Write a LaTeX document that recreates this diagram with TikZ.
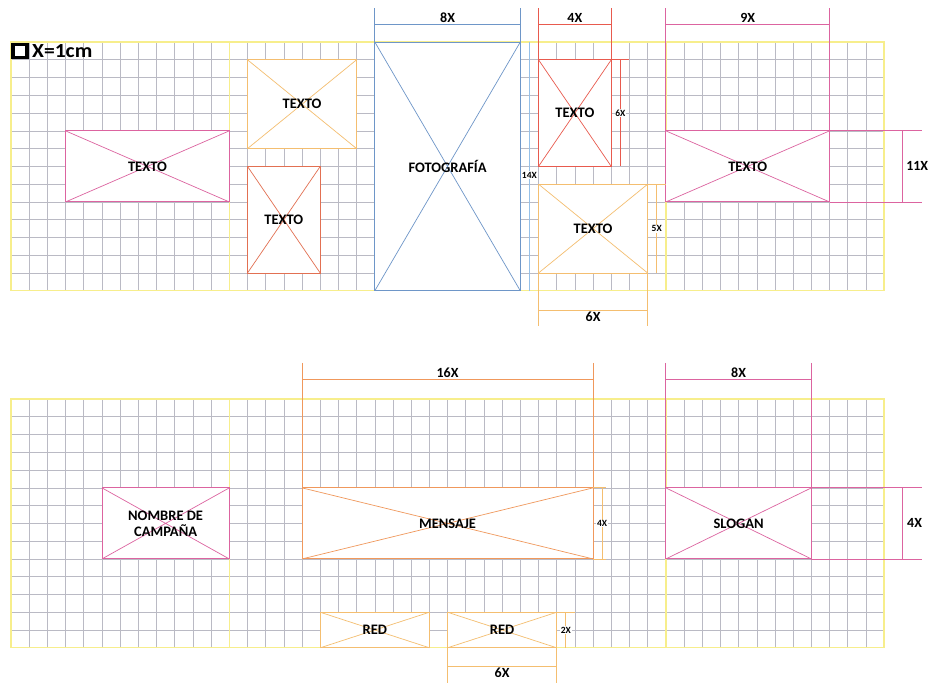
\documentclass[tikz,border=0pt]{standalone}
\usepackage{fontspec}
\setmainfont{Carlito}
\definecolor{gridc}{RGB}{186,186,196}
\definecolor{yel}{RGB}{247,238,140}
\definecolor{pinkc}{RGB}{220,100,160}
\definecolor{lorange}{RGB}{244,190,112}
\definecolor{redor}{RGB}{226,112,82}
\definecolor{redc}{RGB}{232,90,78}
\definecolor{bluec}{RGB}{110,150,200}
\definecolor{lblue}{RGB}{150,192,232}
\definecolor{orangec}{RGB}{240,152,92}
\tikzset{
  gridline/.style={draw=gridc, line width=0.6pt},
  border/.style={draw=yel, line width=1.4pt},
  lbl/.style={font=\fontsize{14.5}{16}\selectfont\bfseries, align=center, inner sep=0pt},
  dimlbl/.style={font=\fontsize{14}{16}\selectfont\bfseries, inner sep=1pt},
  smalllbl/.style={font=\fontsize{9.5}{11}\selectfont\bfseries, inner sep=0.8pt, fill=white},
  dimline/.style={line width=0.8pt},
}
\newcommand{\xbox}[7]{%
  \draw[#2, fill=white, line width=0.9pt] (#3,#4) rectangle (#5,#6);
  \draw[#2, line width=0.7pt] (#3,#4) -- (#5,#6) (#5,#4) -- (#3,#6);
  \node[lbl] (#1) at ({(#3+#5)/2},{(#4+#6)/2}) {#7};
}
\newcommand{\gridpanel}{%
  \foreach \c in {1,...,47} {\draw[gridline] (\c,0) -- (\c,14);}
  \foreach \r in {1,...,13} {\draw[gridline] (0,\r) -- (48,\r);}
  \draw[border] (0,0) rectangle (48,14);
  \draw[border] (12,0) -- (12,14) (36,0) -- (36,14);
}
\begin{document}
\begin{tikzpicture}[x=1pt,y=-1pt]
\useasboundingbox (0,0) rectangle (934,686);
% ---------- top panel ----------
\begin{scope}[xshift=11pt, yshift=-42pt, x=18.19pt, y=-17.77pt]
  \gridpanel
  % legend
  \draw[black, fill=white, line width=3.4pt] (0.12,0.14) rectangle (0.88,0.88);
  \node[font=\fontsize{20}{21}\selectfont\bfseries, anchor=west, inner sep=0pt, xscale=1.08] (legend) at (1.15,0.5) {X=1cm};
  % boxes
  \xbox{t1}{pinkc}{3}{5}{12}{9}{TEXTO}
  \xbox{t2}{lorange}{13}{1}{19}{6}{TEXTO}
  \xbox{t3}{redor}{13}{7}{17}{13}{TEXTO}
  \xbox{foto}{bluec}{20}{0}{28}{14}{FOTOGRAFÍA}
  \xbox{t4}{redc}{29}{1}{33}{7}{TEXTO}
  \xbox{t5}{lorange}{29}{8}{35}{13}{TEXTO}
  \xbox{t6}{pinkc}{36}{5}{45}{9}{TEXTO}
  % 8X
  \draw[bluec, dimline] (20,-1.9) -- (20,0) (28,-1.9) -- (28,0) (20,-1) -- (28,-1);
  \node[dimlbl, anchor=south] (d8) at (24,-1.02) {8X};
  % 14X
  \draw[lblue, dimline] (28.5,0) -- (28.5,14);
  \node[smalllbl] (d14) at (28.5,7.5) {14X};
  % 4X
  \draw[redc, dimline] (29,-1.9) -- (29,1) (33,-1.9) -- (33,1) (29,-1) -- (33,-1);
  \node[dimlbl, anchor=south] (d4) at (31,-1.02) {4X};
  % 6X vertical
  \draw[redc, dimline] (33,1) -- (34,1) (33.5,1) -- (33.5,7);
  \node[smalllbl] (d6v) at (33.5,4) {6X};
  % 5X
  \draw[lorange, dimline] (35,8) -- (36,8) (35.5,8) -- (35.5,13);
  \node[smalllbl] (d5) at (35.5,10.5) {5X};
  % 6X horizontal
  \draw[lorange, dimline] (29,13) -- (29,16) (35,13) -- (35,16) (29,15.1) -- (35,15.1);
  \node[dimlbl, anchor=north] (d6h) at (32,15.12) {6X};
  % 9X
  \draw[pinkc, dimline] (36,-1.9) -- (36,5) (45,-1.9) -- (45,5) (36,-1) -- (45,-1);
  \node[dimlbl, anchor=south] (d9) at (40.5,-1.02) {9X};
  % 11X
  \draw[pinkc, dimline] (45,5) -- (50.07,5) (45,9) -- (50.07,9) (49,5) -- (49,9);
  \node[dimlbl, anchor=west] (d11) at (49.15,7) {11X};
\end{scope}
% ---------- bottom panel ----------
\begin{scope}[xshift=11pt, yshift=-399pt, x=18.19pt, y=-17.77pt]
  \gridpanel
  \xbox{camp}{pinkc}{5}{5}{12}{9}{NOMBRE DE\\CAMPAÑA}
  \xbox{mens}{orangec}{16}{5}{32}{9}{MENSAJE}
  \xbox{slog}{pinkc}{36}{5}{44}{9}{SLOGAN}
  \xbox{red1}{lorange}{17}{12}{23}{14}{RED}
  \xbox{red2}{lorange}{24}{12}{30}{14}{RED}
  % 16X
  \draw[orangec, dimline] (16,-2.03) -- (16,5) (32,-2.03) -- (32,5) (16,-1.1) -- (32,-1.1);
  \node[dimlbl, anchor=south] (d16) at (24,-1.12) {16X};
  % 4X mensaje
  \draw[lorange, dimline] (32,5) -- (32.7,5) (32,9) -- (32.7,9) (32.5,5) -- (32.5,9);
  \node[smalllbl] (d4m) at (32.5,7) {4X};
  % 8X slogan
  \draw[pinkc, dimline] (36,-2.03) -- (36,5) (44,-2.03) -- (44,5) (36,-1.1) -- (44,-1.1);
  \node[dimlbl, anchor=south] (d8s) at (40,-1.12) {8X};
  % 4X slogan
  \draw[pinkc, dimline] (44,5) -- (50.07,5) (44,9) -- (50.07,9) (49,5) -- (49,9);
  \node[dimlbl, anchor=west] (d4s) at (49.2,7) {4X};
  % 2X
  \draw[lorange, dimline] (30,12) -- (31,12) (30.5,12) -- (30.5,14);
  \node[smalllbl] (d2) at (30.5,13) {2X};
  % 6X red
  \draw[lorange, dimline] (24,14) -- (24,15.98) (30,14) -- (30,15.98) (24,15.06) -- (30,15.06);
  \node[dimlbl, anchor=north] (d6r) at (27,15.08) {6X};
\end{scope}
\end{tikzpicture}
\end{document}
